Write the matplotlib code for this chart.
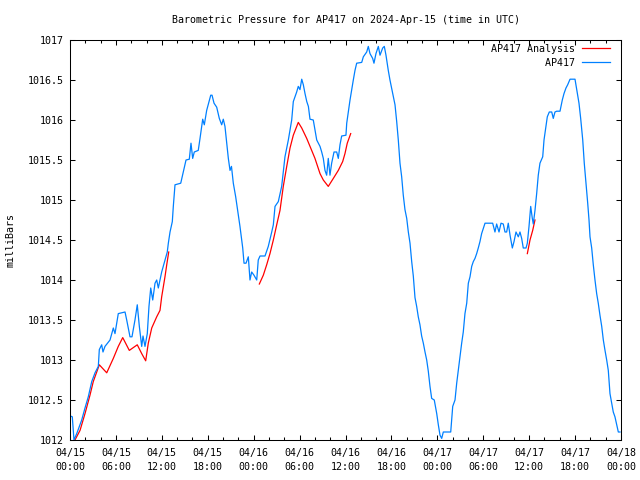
"""
Plot barometric pressure for station AP417 (observations and analysis), gnuplot look.
"""
import matplotlib
matplotlib.use("Agg")
import matplotlib.pyplot as plt
from matplotlib.ticker import FormatStrFormatter, MultipleLocator
import numpy as np


# hours since 2024-04-15 00:00 UTC
obs_hours = [
    0.05, 0.30, 0.52, 0.88, 1.53, 1.96, 2.39, 2.84, 3.27, 3.70, 3.83, 4.14, 4.31, 4.57,
    5.23, 5.66, 5.88, 6.31, 7.19, 7.41, 7.84, 8.10, 8.49, 8.79, 9.06, 9.37, 9.54, 9.80,
    10.10, 10.32, 10.55, 10.81, 11.11, 11.33, 11.54, 11.98, 12.41, 12.71, 12.85, 13.07,
    13.37, 13.50, 13.72, 14.47, 14.80, 15.16, 15.59, 15.81, 16.03, 16.24, 16.76, 16.99,
    17.34, 17.55, 17.86, 18.39, 18.56, 18.82, 19.17, 19.51, 19.82, 20.03, 20.25, 20.48,
    20.69, 20.91, 21.10, 21.34, 21.65, 21.91, 22.21, 22.44, 22.57, 22.74, 23.00, 23.30,
    23.52, 23.74, 24.04, 24.40, 24.60, 24.83, 25.48, 25.91, 26.36, 26.57, 26.79, 27.22,
    27.66, 28.09, 28.53, 28.97, 29.18, 29.62, 29.83, 30.05, 30.28, 30.49, 30.71, 30.94,
    31.15, 31.36, 31.79, 32.01, 32.24, 32.67, 32.89, 33.10, 33.32, 33.54, 33.75, 33.97,
    34.19, 34.50, 34.85, 35.06, 35.28, 35.50, 36.06, 36.16, 36.37, 36.59, 36.81, 37.02,
    37.24, 37.46, 38.12, 38.33, 38.77, 38.98, 39.20, 39.55, 39.72, 39.98, 40.29, 40.51,
    40.86, 41.07, 41.29, 41.59, 41.81, 42.25, 42.47, 42.69, 42.90, 43.12, 43.34, 43.55,
    43.77, 44.00, 44.21, 44.43, 44.65, 44.86, 45.08, 45.30, 45.51, 45.73, 45.95, 46.17,
    46.39, 46.61, 46.82, 47.04, 47.26, 47.60, 47.92, 48.13, 48.35, 48.57, 48.78, 49.75,
    50.01, 50.31, 50.53, 50.74, 50.96, 51.18, 51.39, 51.61, 51.84, 52.05, 52.27, 52.49,
    52.70, 52.92, 53.14, 53.35, 53.57, 53.79, 54.23, 55.23, 55.53, 55.75, 56.06, 56.32,
    56.62, 56.84, 57.06, 57.27, 57.50, 57.80, 58.02, 58.28, 58.58, 58.80, 59.02, 59.23,
    59.59, 59.76, 59.98, 60.20, 60.41, 60.54, 60.76, 60.98, 61.19, 61.41, 61.77, 61.94,
    62.16, 62.37, 62.63, 62.95, 63.15, 63.37, 63.60, 64.03, 64.33, 64.55, 64.81, 65.03,
    65.34, 65.99, 66.21, 66.51, 66.73, 67.00, 67.20, 67.43, 67.65, 67.82, 67.95, 68.17,
    68.38, 68.60, 68.82, 69.03, 69.25, 69.48, 69.69, 69.91, 70.13, 70.34, 70.56, 70.78,
    70.99, 71.21, 71.44, 71.65, 71.87,
]
obs_mb = [
    1012.30, 1012.29, 1012.00, 1012.08, 1012.25, 1012.40, 1012.54, 1012.73, 1012.84, 1012.92,
    1013.13, 1013.19, 1013.10, 1013.17, 1013.25, 1013.40, 1013.33, 1013.58, 1013.60, 1013.50,
    1013.29, 1013.29, 1013.50, 1013.69, 1013.42, 1013.17, 1013.30, 1013.17, 1013.33, 1013.67,
    1013.90, 1013.75, 1013.96, 1014.00, 1013.90, 1014.10, 1014.25, 1014.35, 1014.46, 1014.60,
    1014.73, 1014.92, 1015.19, 1015.21, 1015.35, 1015.50, 1015.51, 1015.71, 1015.52, 1015.60,
    1015.62, 1015.77, 1016.01, 1015.94, 1016.12, 1016.31, 1016.31, 1016.21, 1016.16, 1016.02,
    1015.94, 1016.01, 1015.92, 1015.71, 1015.52, 1015.37, 1015.42, 1015.21, 1015.04, 1014.87,
    1014.67, 1014.50, 1014.40, 1014.21, 1014.21, 1014.29, 1014.00, 1014.10, 1014.06, 1014.00,
    1014.25, 1014.30, 1014.30, 1014.42, 1014.60, 1014.69, 1014.92, 1014.98, 1015.17, 1015.54,
    1015.75, 1016.00, 1016.23, 1016.35, 1016.42, 1016.38, 1016.51, 1016.44, 1016.33, 1016.23,
    1016.17, 1016.01, 1016.00, 1015.88, 1015.75, 1015.67, 1015.60, 1015.52, 1015.37, 1015.31,
    1015.52, 1015.31, 1015.46, 1015.60, 1015.60, 1015.52, 1015.69, 1015.80, 1015.81, 1015.96,
    1016.10, 1016.25, 1016.38, 1016.50, 1016.62, 1016.71, 1016.72, 1016.79, 1016.85, 1016.92,
    1016.83, 1016.77, 1016.71, 1016.83, 1016.92, 1016.81, 1016.90, 1016.92, 1016.81, 1016.62,
    1016.50, 1016.29, 1016.19, 1015.98, 1015.75, 1015.46, 1015.29, 1015.06, 1014.88, 1014.77,
    1014.60, 1014.46, 1014.23, 1014.05, 1013.78, 1013.67, 1013.54, 1013.44, 1013.30, 1013.21,
    1013.10, 1013.00, 1012.86, 1012.67, 1012.52, 1012.50, 1012.33, 1012.19, 1012.06, 1012.02,
    1012.10, 1012.10, 1012.42, 1012.50, 1012.71, 1012.87, 1013.04, 1013.21, 1013.35, 1013.58,
    1013.71, 1013.96, 1014.04, 1014.17, 1014.23, 1014.27, 1014.33, 1014.40, 1014.48, 1014.58,
    1014.71, 1014.71, 1014.60, 1014.70, 1014.60, 1014.71, 1014.70, 1014.60, 1014.60, 1014.71,
    1014.56, 1014.40, 1014.48, 1014.60, 1014.54, 1014.60, 1014.52, 1014.40, 1014.40, 1014.46,
    1014.67, 1014.92, 1014.77, 1014.70, 1014.87, 1015.08, 1015.31, 1015.46, 1015.54, 1015.75,
    1015.90, 1016.04, 1016.10, 1016.10, 1016.02, 1016.10, 1016.11, 1016.11, 1016.25, 1016.33,
    1016.40, 1016.44, 1016.51, 1016.51, 1016.38, 1016.21, 1016.02, 1015.75, 1015.46, 1015.21,
    1014.96, 1014.75, 1014.54, 1014.40, 1014.19, 1014.00, 1013.83, 1013.71, 1013.56, 1013.42,
    1013.25, 1013.12, 1013.00, 1012.87, 1012.58, 1012.46, 1012.35, 1012.29, 1012.19, 1012.10,
    1012.10,
]

# analysis runs, gaps between them marked with nan
ana_hours = [
    0.65, 1.31, 1.96, 2.61, 3.04, 3.83, 4.80, 5.66, 6.31, 6.89, 7.75, 8.79, 9.37, 9.89,
    10.23, 10.68, 11.33, 11.76, 11.98, 12.41, 12.64, 12.90,
    np.nan,
    24.74, 25.26, 25.70, 26.13, 26.57, 27.01, 27.44, 27.87, 28.32, 28.75, 29.18, 29.83,
    30.28, 30.93, 31.58, 32.01, 32.67, 33.10, 33.75, 34.41, 35.06, 35.63, 35.93, 36.23,
    36.68,
    np.nan,
    59.76, 60.11, 60.46, 60.76,
]
ana_mb = [
    1012.00, 1012.12, 1012.33, 1012.56, 1012.73, 1012.94, 1012.84, 1013.02, 1013.17, 1013.28,
    1013.12, 1013.19, 1013.08, 1012.99, 1013.21, 1013.40, 1013.54, 1013.62, 1013.79, 1014.04,
    1014.19, 1014.35,
    np.nan,
    1013.95, 1014.06, 1014.19, 1014.33, 1014.50, 1014.69, 1014.87, 1015.17, 1015.42, 1015.65,
    1015.81, 1015.97, 1015.90, 1015.77, 1015.62, 1015.52, 1015.33, 1015.25, 1015.17, 1015.27,
    1015.37, 1015.48, 1015.58, 1015.71, 1015.83,
    np.nan,
    1014.33, 1014.50, 1014.62, 1014.75,
]

tick_hours = [0, 6, 12, 18, 24, 30, 36, 42, 48, 54, 60, 66, 72]
tick_labels = [
    "04/15\n00:00", "04/15\n06:00", "04/15\n12:00", "04/15\n18:00",
    "04/16\n00:00", "04/16\n06:00", "04/16\n12:00", "04/16\n18:00",
    "04/17\n00:00", "04/17\n06:00", "04/17\n12:00", "04/17\n18:00",
    "04/18\n00:00",
]

FONT = "DejaVu Sans Mono"
FSIZE = 7.2


def build_figure():
    """Draw the pressure chart and save it."""
    plt.rcParams['font.family'] = FONT
    plt.rcParams['font.size'] = FSIZE

    fig = plt.figure(figsize=(6.4, 4.8), dpi=100)
    ax = fig.add_axes([70 / 640, 40 / 480, 551 / 640, 400 / 480])

    ax.plot(ana_hours, ana_mb, color="#ff0000", linewidth=0.9, label="AP417 Analysis")
    ax.plot(obs_hours, obs_mb, color="#0080ff", linewidth=0.9, label="         AP417")

    ax.set_xlim(0, 72)
    ax.set_ylim(1012, 1017)
    ax.set_xticks(tick_hours)
    ax.set_xticklabels(tick_labels, linespacing=1.5)
    ax.xaxis.set_minor_locator(MultipleLocator(2))
    ax.yaxis.set_major_locator(MultipleLocator(0.5))
    ax.yaxis.set_major_formatter(FormatStrFormatter('%g'))

    ax.tick_params(which='both', direction='in', top=True, right=True, width=0.75,
                   colors='black', labelsize=FSIZE)
    ax.tick_params(which='major', length=3.6)
    ax.tick_params(which='minor', length=2.0)
    ax.tick_params(axis='x', pad=5.5)
    ax.tick_params(axis='y', pad=4.5)
    for spine in ax.spines.values():
        spine.set_linewidth(0.75)

    ax.set_title("Barometric Pressure for AP417 on 2024-Apr-15 (time in UTC)",
                 fontsize=FSIZE, pad=12)
    ax.set_ylabel("milliBars", fontsize=FSIZE, labelpad=9)

    ax.legend(loc='upper right', bbox_to_anchor=(0.987, 1.0), frameon=False,
              markerfirst=False, handlelength=2.8, handletextpad=0.7,
              labelspacing=0.4, borderpad=0.4, borderaxespad=0, fontsize=FSIZE)

    plt.savefig("out.png", dpi=100)


if __name__ == "__main__":
    build_figure()
